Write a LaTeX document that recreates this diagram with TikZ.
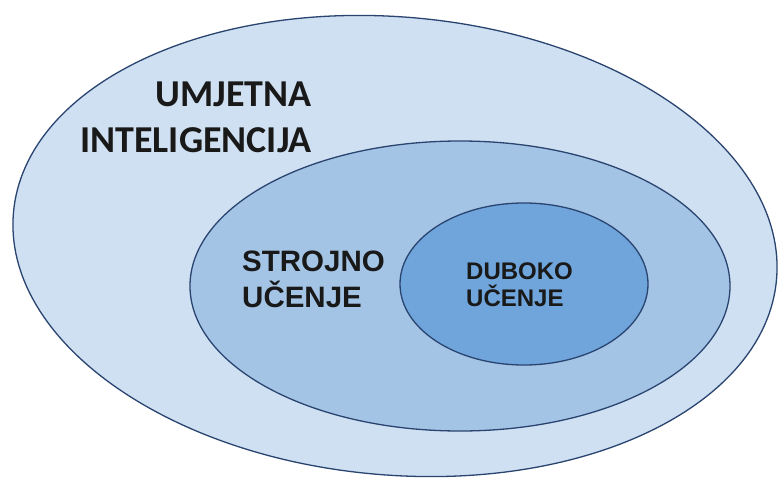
\documentclass[tikz,border=0pt]{standalone}
\usepackage{fontspec}
\setmainfont{Liberation Sans}
\newfontfamily\calfont{Carlito}
\usepackage{tikz}
\usetikzlibrary{positioning,shapes.geometric}
\definecolor{rub}{HTML}{2A4470}
\definecolor{cout}{HTML}{CFE0F2}
\definecolor{cmid}{HTML}{A4C4E6}
\definecolor{cin}{HTML}{6FA5DB}

\begin{document}
\begin{tikzpicture}[
  x=1pt, y=-1pt,
  elip/.style={ellipse, draw=rub, line width=1.3pt, inner sep=0pt},
  txt/.style={inner sep=0pt, font=\bfseries, text=black!90}
]
  \useasboundingbox[fill=white] (0,0) rectangle (780,479);

  % Elipse
  \node[elip, fill=cout, minimum width=766pt, minimum height=458pt, rotate=-5] (ui) at (395,246) {};
  \node[elip, fill=cmid, minimum width=540pt, minimum height=290pt] (su) at (460,286) {};
  \node[elip, fill=cin, minimum width=248pt, minimum height=162pt] (du) at (524,284) {};

  % Natpisi
  \node[txt, align=right, anchor=north east, font=\calfont\bfseries\fontsize{38}{46}\selectfont] (tui) at (312,82) {UMJETNA\\INTELIGENCIJA};
  \node[txt, align=left, anchor=north west, font=\bfseries\fontsize{29.5}{36}\selectfont] (tsu) at (242,251) {STROJNO\\UČENJE};
  \node[txt, align=left, anchor=north west, font=\bfseries\fontsize{24}{27}\selectfont] (tdu) at (466,263) {DUBOKO\\UČENJE};
\end{tikzpicture}
\end{document}
